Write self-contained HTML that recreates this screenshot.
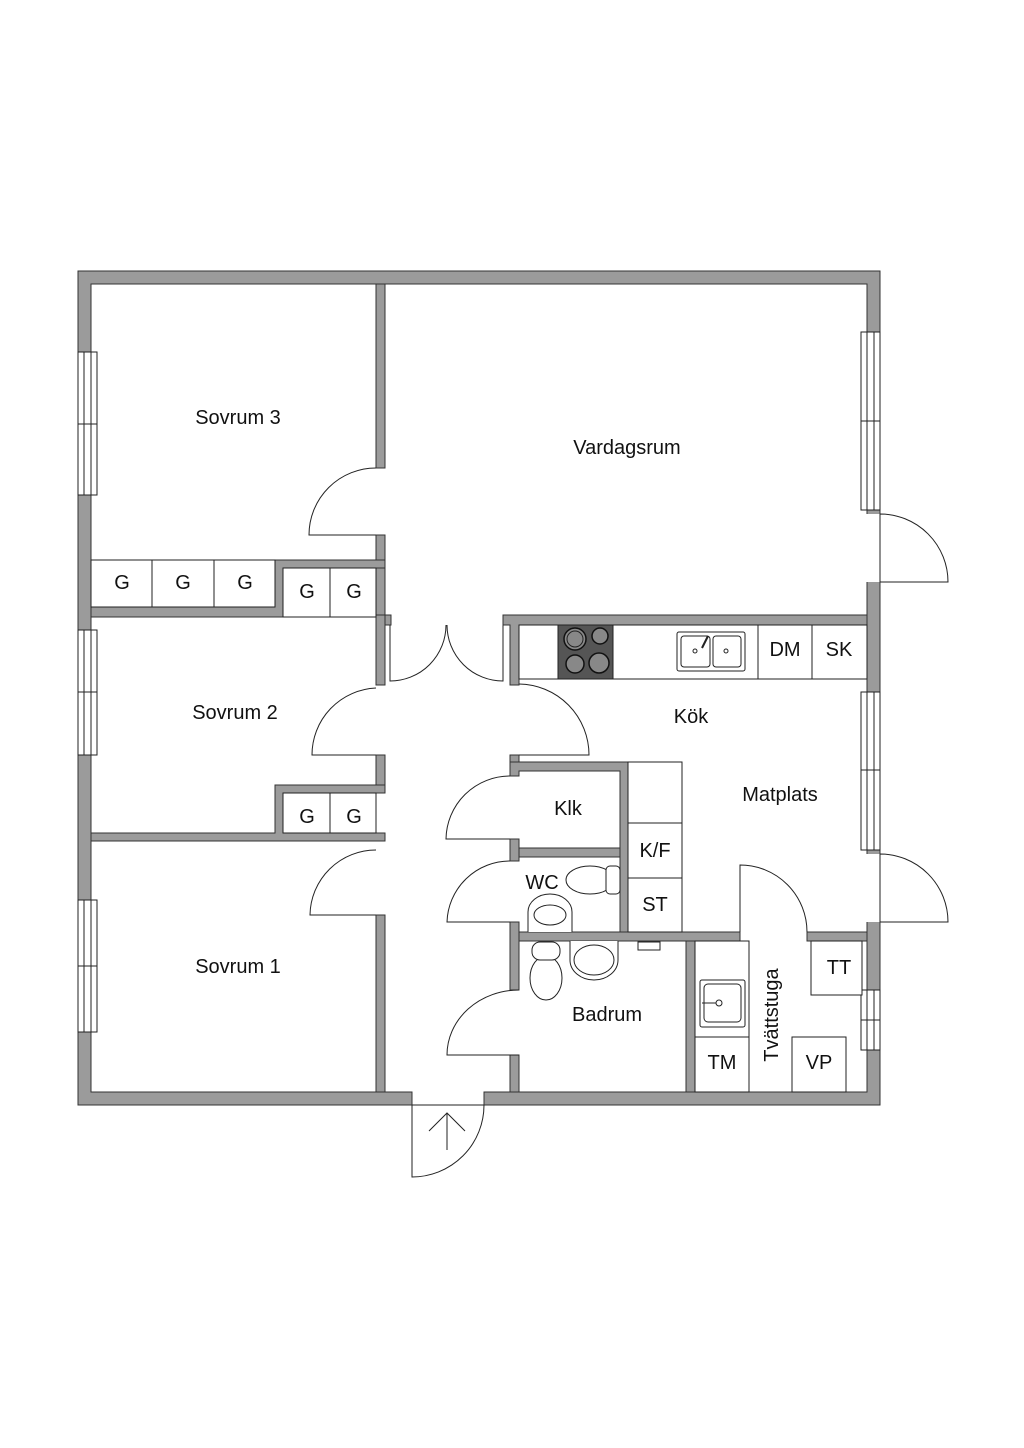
<!DOCTYPE html>
<html><head><meta charset="utf-8"><style>
html,body{margin:0;padding:0;background:#fff}
svg{display:block}
text{font-family:"Liberation Sans",sans-serif;font-size:20px;fill:#111;text-anchor:middle;dominant-baseline:central}
.w{fill:#9b9b9b;stroke:#333;stroke-width:1}
.l{fill:none;stroke:#222;stroke-width:1}
.b{fill:#fff;stroke:#222;stroke-width:1}
</style></head><body>
<svg width="1024" height="1448" viewBox="0 0 1024 1448">
<!-- outer walls -->
<path class="w" fill-rule="evenodd" d="M78,271H880V1105H484V1092H867V284H91V1092H412V1105H78Z"/>
<!-- windows left -->
<rect class="b" x="78" y="352" width="19" height="143"/><line class="l" x1="84" y1="352" x2="84" y2="495"/><line class="l" x1="91" y1="352" x2="91" y2="495"/><line class="l" x1="78" y1="424" x2="97" y2="424"/>
<rect class="b" x="78" y="630" width="19" height="125"/><line class="l" x1="84" y1="630" x2="84" y2="755"/><line class="l" x1="91" y1="630" x2="91" y2="755"/><line class="l" x1="78" y1="692" x2="97" y2="692"/>
<rect class="b" x="78" y="900" width="19" height="132"/><line class="l" x1="84" y1="900" x2="84" y2="1032"/><line class="l" x1="91" y1="900" x2="91" y2="1032"/><line class="l" x1="78" y1="966" x2="97" y2="966"/>
<!-- windows right -->
<rect class="b" x="861" y="332" width="19" height="178"/><line class="l" x1="867" y1="332" x2="867" y2="510"/><line class="l" x1="874" y1="332" x2="874" y2="510"/><line class="l" x1="861" y1="421" x2="880" y2="421"/>
<rect class="b" x="861" y="692" width="19" height="158"/><line class="l" x1="867" y1="692" x2="867" y2="850"/><line class="l" x1="874" y1="692" x2="874" y2="850"/><line class="l" x1="861" y1="770" x2="880" y2="770"/>
<rect class="b" x="861" y="990" width="19" height="60"/><line class="l" x1="867" y1="990" x2="867" y2="1050"/><line class="l" x1="874" y1="990" x2="874" y2="1050"/><line class="l" x1="861" y1="1020" x2="880" y2="1020"/>
<!-- right exterior doors (gaps) -->
<rect x="866" y="514" width="15" height="68" fill="#fff"/>
<rect x="866" y="854" width="15" height="68" fill="#fff"/>
<path class="l" d="M880,514A68,68 0 0 1 948,582H880V514"/>
<path class="l" d="M880,854A68,68 0 0 1 948,922H880V854"/>
<!-- entry door -->
<line class="l" x1="412" y1="1105" x2="484" y2="1105"/>
<path class="l" d="M412,1105V1177A72,72 0 0 0 484,1105"/>
<path class="l" d="M447,1150V1113M429,1131L447,1113L465,1131"/>
<!-- interior walls left column -->
<rect class="w" x="376" y="284" width="9" height="184"/>
<rect class="w" x="376" y="535" width="9" height="33"/>
<path class="w" d="M275,560H385V568H283V617H91V607H275Z"/>
<rect class="w" x="376" y="568" width="9" height="49"/>
<rect class="w" x="385" y="615" width="6" height="10"/>
<rect class="w" x="376" y="615" width="9" height="70"/>
<rect class="w" x="376" y="755" width="9" height="38"/>
<path class="w" d="M275,785H385V793H283V833H385V841H91V833H275Z"/>
<rect class="w" x="376" y="915" width="9" height="177"/>
<!-- closets -->
<rect class="b" x="91" y="560" width="61" height="47"/><rect class="b" x="152" y="560" width="62" height="47"/><rect class="b" x="214" y="560" width="61" height="47"/>
<rect class="b" x="283" y="568" width="47" height="49"/><rect class="b" x="330" y="568" width="46" height="49"/>
<rect class="b" x="283" y="793" width="47" height="40"/><rect class="b" x="330" y="793" width="46" height="40"/>
<text x="122" y="583">G</text><text x="183" y="583">G</text><text x="245" y="583">G</text>
<text x="307" y="592">G</text><text x="354" y="592">G</text>
<text x="307" y="817">G</text><text x="354" y="817">G</text>
<!-- bedroom doors -->
<path class="l" d="M376,468A67,67 0 0 0 309,535H376"/>
<path class="l" d="M376,688A67,67 0 0 0 312,755H376"/>
<path class="l" d="M376,850A66,66 0 0 0 310,915H376"/>
<!-- double door -->
<path class="l" d="M390,625V681A56,56 0 0 0 446,625"/>
<path class="l" d="M503,625V681A56,56 0 0 1 447,625"/>
<!-- kitchen walls -->
<path class="w" d="M503,615H867V625H519V685H510V625H503Z"/>
<rect class="w" x="510" y="755" width="9" height="21"/>
<path class="w" d="M510,762H628V932H620V771H519V776H510Z"/>
<rect class="w" x="510" y="839" width="9" height="22"/>
<rect class="w" x="519" y="848" width="101" height="9"/>
<rect class="w" x="510" y="922" width="9" height="68"/>
<rect class="w" x="519" y="932" width="221" height="9"/>
<rect class="w" x="807" y="932" width="60" height="9"/>
<rect class="w" x="510" y="1055" width="9" height="37"/>
<rect class="w" x="686" y="941" width="9" height="151"/>
<!-- kitchen counter -->
<rect class="b" x="519" y="625" width="348" height="54"/>
<rect x="558" y="625" width="55" height="54" fill="#555" stroke="#222"/>
<circle cx="575" cy="639" r="11" fill="#888" stroke="#111" stroke-width="1.5"/><circle cx="575" cy="639" r="8" fill="#888" stroke="#222"/>
<circle cx="600" cy="636" r="8" fill="#888" stroke="#111" stroke-width="1.5"/>
<circle cx="575" cy="664" r="9" fill="#888" stroke="#111" stroke-width="1.5"/>
<circle cx="599" cy="663" r="10" fill="#888" stroke="#111" stroke-width="1.5"/>
<rect class="b" x="677" y="632" width="68" height="39" rx="2"/>
<rect class="b" x="681" y="636" width="29" height="31" rx="3"/><rect class="b" x="713" y="636" width="28" height="31" rx="3"/>
<circle class="l" cx="695" cy="651" r="2"/><circle class="l" cx="726" cy="651" r="2"/><line x1="702" y1="648" x2="708" y2="636" stroke="#222" stroke-width="2"/>
<line class="l" x1="758" y1="625" x2="758" y2="679"/><line class="l" x1="812" y1="625" x2="812" y2="679"/>
<text x="785" y="650">DM</text><text x="839" y="650">SK</text>
<!-- kitchen door -->
<path class="l" d="M519,684A71,71 0 0 1 589,755H519"/>
<!-- fridge column -->
<rect class="b" x="628" y="762" width="54" height="170"/>
<line class="l" x1="628" y1="823" x2="682" y2="823"/><line class="l" x1="628" y1="878" x2="682" y2="878"/>
<text x="655" y="851">K/F</text><text x="655" y="905">ST</text>
<!-- klk, wc doors -->
<path class="l" d="M510,776A64,64 0 0 0 446,839H510"/>
<path class="l" d="M510,861A63,63 0 0 0 447,922H510"/>
<!-- WC fixtures -->
<ellipse class="b" cx="590" cy="880" rx="24" ry="14"/><rect class="b" x="606" y="866" width="14" height="28" rx="4"/>
<path class="b" d="M528,932V912A22,18 0 0 1 572,912V932"/><ellipse class="l" cx="550" cy="915" rx="16" ry="10"/>
<!-- laundry door -->
<path class="l" d="M740,932V865A67,67 0 0 1 807,932"/>
<!-- badrum door -->
<path class="l" d="M519,990A72,65 0 0 0 447,1055H519"/>
<!-- bathroom fixtures -->
<ellipse class="b" cx="546" cy="978" rx="16" ry="22"/><rect class="b" x="532" y="942" width="28" height="18" rx="8"/>
<path class="b" d="M570,941V960A24,20 0 0 0 618,960V941"/><ellipse class="l" cx="594" cy="960" rx="20" ry="15"/>
<path class="l" d="M638,942H660V950H638Z"/>
<!-- laundry -->
<rect class="b" x="695" y="941" width="54" height="151"/>
<line class="l" x1="695" y1="1037" x2="749" y2="1037"/>
<rect class="b" x="700" y="980" width="45" height="47" rx="2"/><rect class="b" x="704" y="984" width="37" height="38" rx="4"/>
<circle class="l" cx="719" cy="1003" r="3"/><line class="l" x1="702" y1="1003" x2="716" y2="1003"/>
<rect class="b" x="811" y="941" width="51" height="54"/>
<rect class="b" x="792" y="1037" width="54" height="55"/>
<text x="722" y="1063">TM</text><text x="819" y="1063">VP</text><text x="839" y="968">TT</text>
<text x="772" y="1015" transform="rotate(-90 772 1015)">Tvättstuga</text>
<!-- room labels -->
<text x="238" y="418">Sovrum 3</text>
<text x="627" y="448">Vardagsrum</text>
<text x="235" y="713">Sovrum 2</text>
<text x="238" y="967">Sovrum 1</text>
<text x="691" y="717">Kök</text>
<text x="780" y="795">Matplats</text>
<text x="568" y="809">Klk</text>
<text x="542" y="883">WC</text>
<text x="607" y="1015">Badrum</text>
</svg>
</body></html>
